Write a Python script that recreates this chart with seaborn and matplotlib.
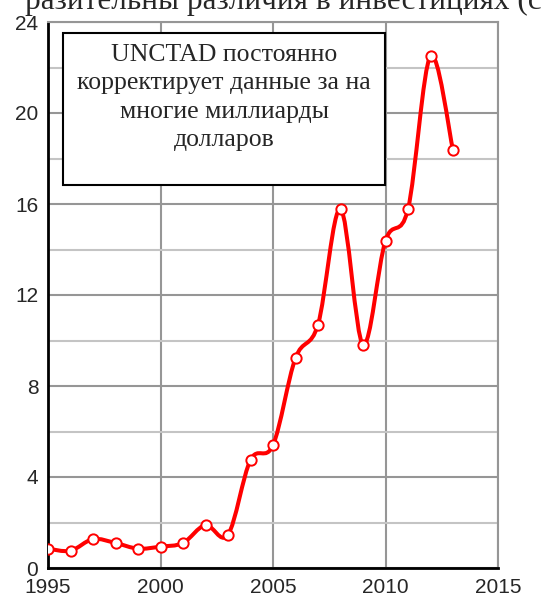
import matplotlib
matplotlib.use("Agg")
import matplotlib.pyplot as plt
import seaborn as sns
import numpy as np
import pandas as pd
from matplotlib.path import Path
from matplotlib.patches import PathPatch, Rectangle
from matplotlib.ticker import MultipleLocator

# data (billions of dollars)
years = [1995, 1996, 1997, 1998, 1999, 2000, 2001, 2002, 2003, 2004,
         2005, 2006, 2007, 2008, 2009, 2010, 2011, 2012, 2013]
values = [0.85, 0.76, 1.27, 1.10, 0.85, 0.94, 1.10, 1.89, 1.46, 4.75,
          5.40, 9.23, 10.70, 15.78, 9.82, 14.39, 15.78, 22.50, 18.37]

title_text = "разительны различия в инвестициях (с"
note_lines = ["UNCTAD постоянно", "корректирует данные за на",
              "многие миллиарды", "долларов"]

x_ticks = [1995, 2000, 2005, 2010, 2015]
y_ticks = [0, 4, 8, 12, 16, 20, 24]

df = pd.DataFrame({"year": years, "value": values})

sns.set_style("white")
plt.rcParams['font.family'] = ['Liberation Sans', 'DejaVu Sans']
serif = ["Liberation Serif", "DejaVu Serif"]

fig = plt.figure(figsize=(5.45, 6.02), dpi=100)
ax = fig.add_axes([48 / 545, 1 - 568 / 602, 450 / 545, 546 / 602])

ax.set_xlim(1995, 2015)
ax.set_ylim(0, 24)

# grid: darker at 4s and 5-year marks, lighter at the 2s
ax.yaxis.set_major_locator(MultipleLocator(4))
ax.yaxis.set_minor_locator(MultipleLocator(2))
ax.set_xticks(x_ticks)
ax.grid(which="major", axis="both", color="#969696", lw=1.5)
ax.grid(which="minor", axis="y", color="#c4c4c4", lw=1.5)
ax.set_axisbelow(True)

# smoothed line (excel-style bezier through the points)
x = np.array(years, dtype=float)
y = np.array(values, dtype=float)
verts = [(x[0], y[0])]
codes = [Path.MOVETO]
n = len(x)
for i in range(n - 1):
    p0 = np.array([x[max(i - 1, 0)], y[max(i - 1, 0)]])
    p1 = np.array([x[i], y[i]])
    p2 = np.array([x[i + 1], y[i + 1]])
    p3 = np.array([x[min(i + 2, n - 1)], y[min(i + 2, n - 1)]])
    c1 = p1 + (p2 - p0) / 6
    c2 = p2 - (p3 - p1) / 6
    verts += [tuple(c1), tuple(c2), tuple(p2)]
    codes += [Path.CURVE4] * 3
ax.add_patch(PathPatch(Path(verts, codes), facecolor="none",
                       edgecolor="#ff0000", lw=2.9, zorder=3,
                       capstyle="round", joinstyle="round"))

sns.scatterplot(data=df, x="year", y="value", ax=ax, color="white",
                edgecolor="#ff0000", linewidth=1.4, s=55, zorder=4,
                legend=False)

ax.set_xlabel("")
ax.set_ylabel("")
ax.set_yticks(y_ticks)
ax.tick_params(axis="both", which="major", labelsize=15, length=5,
               width=1.5, color="black", direction="out", pad=2)
ax.tick_params(axis="y", which="minor", length=0)
for s in ["left", "bottom"]:
    ax.spines[s].set_color("black")
    ax.spines[s].set_linewidth(2)
for s in ["top", "right"]:
    ax.spines[s].set_color("#969696")
    ax.spines[s].set_linewidth(1.5)

# note box
box_x0, box_x1 = 63 / 545, 385 / 545
box_y0, box_y1 = 1 - 185 / 602, 1 - 33 / 602
fig.patches.append(Rectangle(
    (box_x0, box_y0), box_x1 - box_x0, box_y1 - box_y0,
    transform=fig.transFigure, facecolor="white", edgecolor="black",
    lw=1.5, zorder=5))
fig.text((box_x0 + box_x1) / 2, 1 - 44 / 602, "\n".join(note_lines),
         ha="center", va="top", family=serif,
         fontsize=18.5, linespacing=1.38, zorder=6)

# cut-off title at the very top
fig.text(25 / 545, 1 - 9 / 602, title_text, ha="left", va="baseline",
         family=serif, fontsize=22.5)

fig.savefig("out.png", dpi=100)
